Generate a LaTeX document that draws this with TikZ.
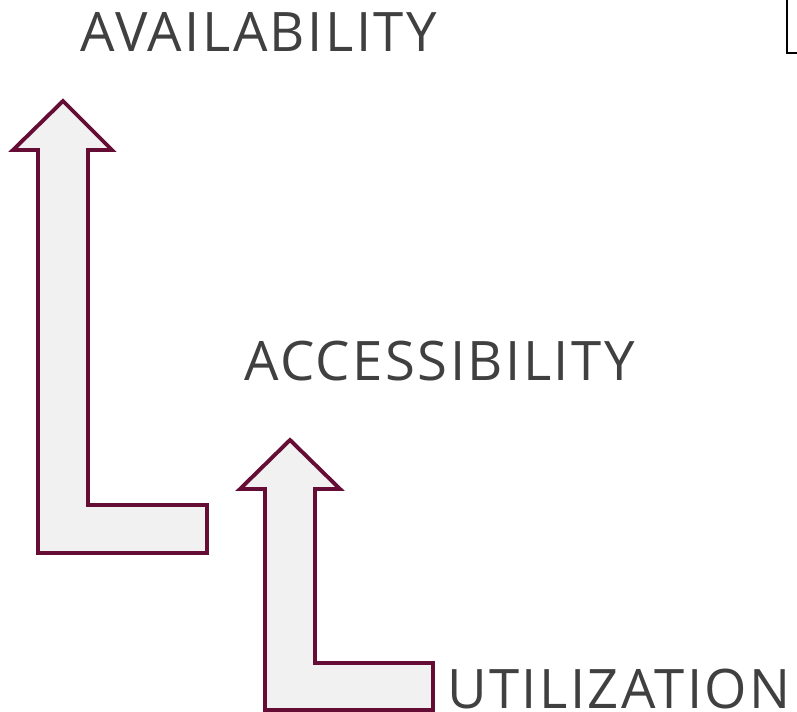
\documentclass[tikz,border=0pt]{standalone}
\usepackage{fontspec}
\setmainfont[LetterSpace=4.5]{Open Sans}
\usetikzlibrary{positioning}
\definecolor{wine}{HTML}{650D35}
\definecolor{pale}{HTML}{F0F1F0}
\definecolor{ink}{HTML}{404040}

\begin{document}
\begin{tikzpicture}[x=0.02cm,y=-0.02cm,
    levtext/.style={anchor=base west,inner sep=0pt,text=ink,font=\fontsize{31}{31}\selectfont},
    blockarrow/.style={draw=wine,fill=pale,line width=2.2pt,line join=miter}]
        \useasboundingbox (0,0) rectangle (797,712);

        \node[levtext] (avail) at (80,52) {AVAILABILITY};
        \node[levtext] (access) at (244,380) {ACCESSIBILITY};
        \node[levtext] (util) at (447,708) {UTILIZATION};

        % big arrow, up to availability
        \draw[blockarrow] (63,101) -- (112,150) -- (88,150) -- (88,505) -- (207,505)
          -- (207,553) -- (38,553) -- (38,150) -- (13,150) -- cycle;
        % small arrow, up to accessibility
        \draw[blockarrow] (290,440) -- (340,489) -- (315,489) -- (315,663) -- (433,663)
          -- (433,710) -- (265,710) -- (265,489) -- (240,489) -- cycle;

        % corner mark, top right
        \draw[line width=1pt] (787,0) -- (787,53) -- (797,53);
      \end{tikzpicture}
\end{document}
